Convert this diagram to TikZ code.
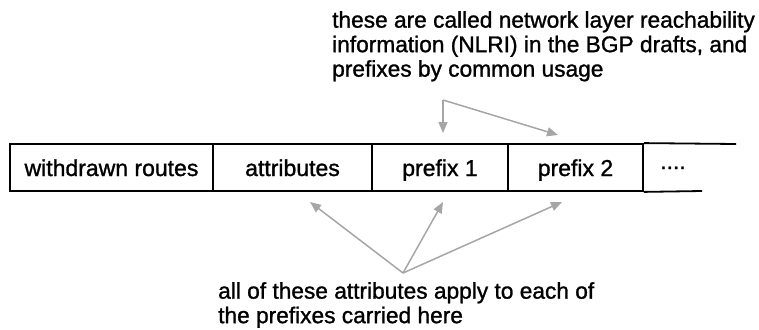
\documentclass[tikz,border=0pt]{standalone}
\usepackage{fontspec}
\setmainfont{Liberation Sans}[FakeBold=1.2]
\usetikzlibrary{arrows.meta}
\begin{document}
\begin{tikzpicture}[x=1pt,y=-1pt,
  cell/.style={draw=black,line width=1.8pt,minimum height=47pt,inner sep=0pt,text height=17pt,text depth=0pt,font=\fontsize{23}{25}\selectfont},
  note/.style={anchor=north west,align=left,inner sep=0pt,font=\fontsize{22.7}{24.5}\selectfont},
  ptr/.style={draw=black!35,line width=1.5pt,-{Triangle[length=11pt,width=9pt]}}]
\useasboundingbox (0,0) rectangle (759,329);
\node[cell,minimum width=203pt] (wr) at (111.5,167.5) {withdrawn routes};
\node[cell,minimum width=159pt] (at) at (292.5,167.5) {attributes};
\node[cell,minimum width=136pt] (p1) at (440,167.5) {prefix 1};
\node[cell,minimum width=135pt] (p2) at (575.5,167.5) {prefix 2};
\node[anchor=base west,inner sep=0pt,font=\fontsize{23}{25}\selectfont] (dots) at (660,176) {\raisebox{0.3em}{....}};
\coordinate (tr) at (736,144);
\coordinate (br) at (702,191);
\draw[line width=1.8pt] (p2.north east) -- (tr);
\draw[line width=1.8pt] (p2.south east) -- (br);
\node[note] (top) at (332,11) {these are called network layer reachability\\information (NLRI) in the BGP drafts, and\\prefixes by common usage};
\node[note] (bot) at (218,282) {all of these attributes apply to each of\\the prefixes carried here};
\coordinate (c) at (443,100);
\coordinate (s) at (403,273);
\coordinate (t1) at (443,133);
\coordinate (t2) at (558,135);
\coordinate (a1) at (310,202);
\coordinate (a2) at (443,202);
\coordinate (a3) at (562,202);
\draw[ptr] (c) -- (t1);
\draw[ptr] (c) -- (t2);
\draw[ptr] (s) -- (a1);
\draw[ptr] (s) -- (a2);
\draw[ptr] (s) -- (a3);
\end{tikzpicture}
\end{document}
